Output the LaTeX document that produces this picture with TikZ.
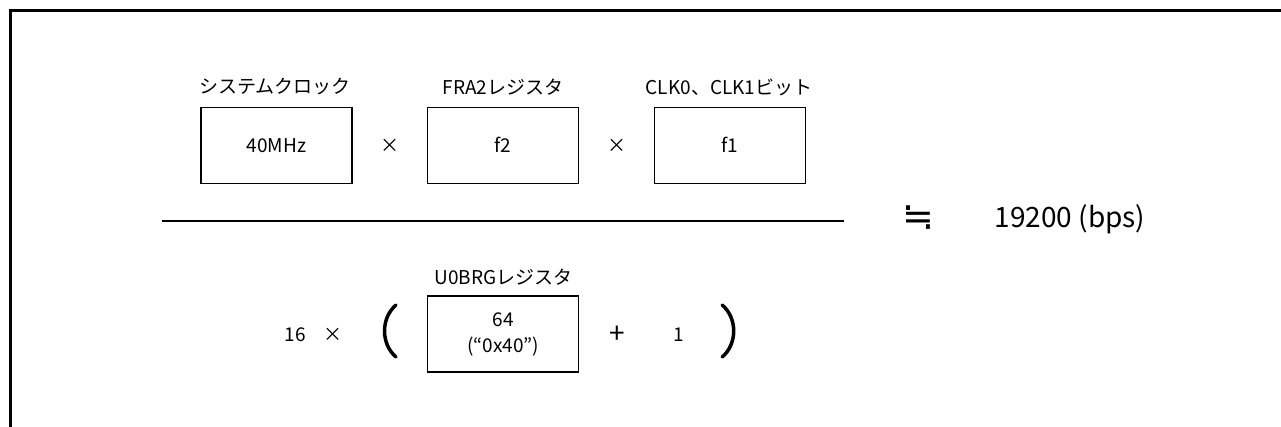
\documentclass[tikz,border=0pt]{standalone}
\usepackage{fontspec}
\setmainfont{Noto Sans CJK JP}
\newfontfamily\symfont{DejaVu Sans}
\begin{document}
\begin{tikzpicture}[x=1pt,y=-1pt,
  txt/.style={font=\fontsize{19}{26}\selectfont, inner sep=0pt, align=center},
  regbox/.style={txt, draw, line width=1.3pt, minimum width=151pt, minimum height=76pt},
  bigtxt/.style={font=\fontsize{28}{32}\selectfont, inner sep=0pt},
  frame/.style={line width=3pt},
  barline/.style={line width=2pt},
  paren/.style={line width=3.5pt, line cap=round}]
\useasboundingbox (0,0) rectangle (1281,427);
% frame
\coordinate (fbl) at (10.5,427);
\coordinate (ftl) at (10.5,10.5);
\coordinate (ftr) at (1281,10.5);
\draw[frame] (fbl) -- (ftl) -- (ftr);
% numerator
\node[regbox] (clk) at (276.5,145.3) {40MHz};
\node[regbox] (fra) at (503,145.3) {f2};
\node[regbox] (ckb) at (730,145.3) {f1};
\node[txt] (lclk) at (275,87) {システムクロック};
\node[txt] (lfra) at (503,87) {FRA2レジスタ};
\node[txt] (lckb) at (729,87) {CLK0、CLK1ビット};
\node[txt] (m1) at (389.5,146) {×};
\node[txt] (m2) at (616.5,146) {×};
% fraction bar
\coordinate (barl) at (162,221);
\coordinate (barr) at (844,221);
\draw[barline] (barl) -- (barr);
\node[inner sep=0pt, font={\symfont\fontsize{38}{40}\selectfont}] (approx) at (918,218) {≒};
\node[bigtxt] (res) at (1070,219) {19200 (bps)};
% denominator
\node[txt] (n16) at (295,335) {16};
\node[txt] (m3) at (333.3,335) {×};
\node[regbox] (brg) at (503,334) {64\\(“0x40”)};
\node[txt] (lbrg) at (503.5,277) {U0BRGレジスタ};
\node[txt, font=\fontsize{28}{30}\selectfont] (plus) at (617,335) {+};
\node[txt] (one) at (679,335) {1};
\coordinate (lpt) at (396,305);
\coordinate (lpb) at (396,357);
\coordinate (rpt) at (722.2,305);
\coordinate (rpb) at (722.2,357);
\draw[paren] (lpt) .. controls (380.7,318) and (380.7,344) .. (lpb);
\draw[paren] (rpt) .. controls (737.5,318) and (737.5,344) .. (rpb);
\end{tikzpicture}
\end{document}
